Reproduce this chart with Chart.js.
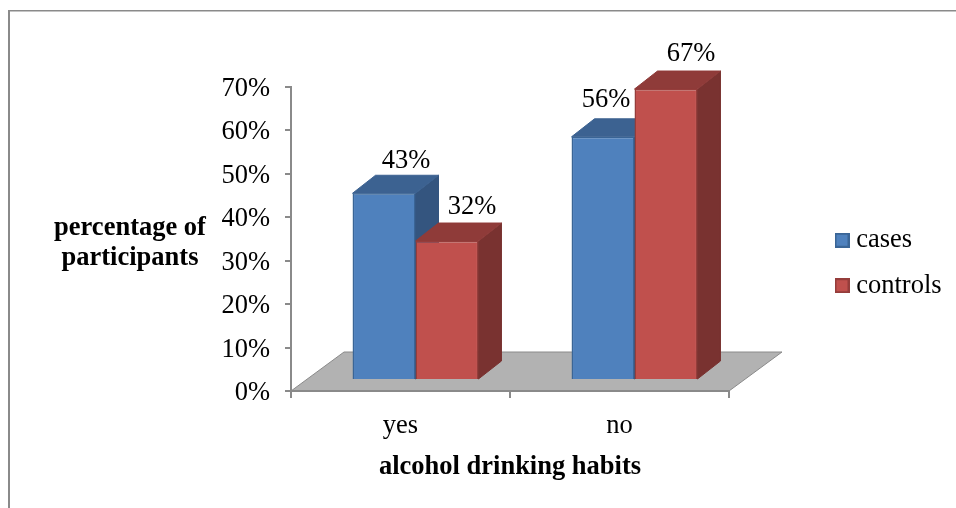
<!DOCTYPE html>
<html>
<head>
<meta charset="utf-8">
<style>
    html, body { margin: 0; padding: 0; background: #fff; }
    canvas { display: block; }
</style>
</head>
<body>
<canvas id="habitsChart" width="956" height="508"></canvas>
<script src="https://cdn.jsdelivr.net/npm/chart.js@4"></script>
<script>
const categories = ['yes', 'no'];
const cases = [43, 56];
const controls = [32, 67];
const yMax = 70;
const yStep = 10;

const xTitle = 'alcohol drinking habits';
const yTitleLines = ['percentage of', 'participants'];

const serif = '"Liberation Serif", "Times New Roman", serif';
const textSize = 26.5;
const axisColor = '#8a8a8a';

// how far the bars sit into the floor, and how deep they are
const barShift = { x: 15, y: -11 };
const barDepth = { x: 23, y: -18 };
const floorDepth = { x: 53, y: -39 };

const faces = [
    { front: '#4f81bd', edge: '#3a6596', top: '#3c6291', side: '#34557f' },
    { front: '#c0504d', edge: '#953d3b', top: '#8f3b39', side: '#793230' }
];

// label position relative to the top middle of the front face
const labelOffsets = [
    [[22, -32], [3, -37]],
    [[25, -34], [25, -35]]
];

function swatch(face) {
    const c = document.createElement('canvas');
    c.width = 15;
    c.height = 15;
    const g = c.getContext('2d');
    g.fillStyle = face.front;
    g.fillRect(0, 0, 15, 15);
    g.strokeStyle = face.edge;
    g.lineWidth = 2;
    g.strokeRect(1, 1, 13, 13);
    return c;
}

function poly(ctx, pts, fill, stroke) {
    ctx.beginPath();
    pts.forEach((p, i) => (i ? ctx.lineTo(p[0], p[1]) : ctx.moveTo(p[0], p[1])));
    ctx.closePath();
    ctx.fillStyle = fill;
    ctx.fill();
    if (stroke) {
        ctx.strokeStyle = stroke;
        ctx.lineWidth = 1;
        ctx.stroke();
    }
}

const frame3d = {
    id: 'frame3d',
    beforeLayout(chart) {
        const lg = chart.legend;
        if (!lg.wideFit) {
            const fit = lg.fit;
            lg.fit = function () {
                fit.call(this);
                this.width = 227;
            };
            lg.wideFit = true;
        }
    },
    afterLayout(chart) {
        // legend goes at a fixed spot in the strip right of the plot
        const lg = chart.legend;
        lg.left = 841 - lg.options.labels.padding;
        lg.right = 956;
        lg.top = 227 - lg.options.labels.padding;
    },
    beforeDraw(chart) {
        const { ctx, scales: { x, y } } = chart;
        ctx.save();
        // page frame
        ctx.fillStyle = axisColor;
        ctx.fillRect(8, 10, 948, 1.5);
        ctx.fillRect(8, 10, 2, 498);
        // floor
        const y0 = y.getPixelForValue(0);
        poly(ctx, [
            [x.left, y0],
            [x.right, y0],
            [x.right + floorDepth.x, y0 + floorDepth.y],
            [x.left + floorDepth.x, y0 + floorDepth.y]
        ], '#b2b2b2', axisColor);
        ctx.restore();
    },
    beforeDatasetsDraw(chart) {
        // depth faces first, left series before right, fronts go over them
        const ctx = chart.ctx;
        ctx.save();
        ctx.translate(barShift.x, barShift.y);
        chart.data.datasets.forEach((ds, i) => {
            const face = faces[i];
            chart.getDatasetMeta(i).data.forEach((bar) => {
                const l = bar.x - bar.width / 2;
                const r = bar.x + bar.width / 2;
                const dx = barDepth.x;
                const dy = barDepth.y;
                poly(ctx, [[r, bar.y], [r + dx, bar.y + dy], [r + dx, bar.base + dy], [r, bar.base]], face.side, face.side);
                poly(ctx, [[l, bar.y], [l + dx, bar.y + dy], [r + dx, bar.y + dy], [r, bar.y]], face.top, face.top);
            });
        });
        ctx.restore();
    },
    beforeDatasetDraw(chart) {
        chart.ctx.save();
        chart.ctx.translate(barShift.x, barShift.y);
    },
    afterDatasetDraw(chart) {
        chart.ctx.restore();
    },
    afterDatasetsDraw(chart) {
        const ctx = chart.ctx;
        ctx.save();
        ctx.fillStyle = '#000';
        ctx.font = textSize + 'px ' + serif;
        ctx.textAlign = 'center';
        ctx.textBaseline = 'middle';
        chart.data.datasets.forEach((ds, i) => {
            chart.getDatasetMeta(i).data.forEach((bar, j) => {
                const off = labelOffsets[i][j];
                ctx.fillText(ds.data[j] + '%', bar.x + barShift.x + off[0], bar.y + barShift.y + off[1]);
            });
        });
        // the value axis title is horizontal and wrapped, which scale titles can't do
        ctx.font = 'bold ' + textSize + 'px ' + serif;
        ctx.fillText(yTitleLines[0], 130, 228);
        ctx.fillText(yTitleLines[1], 130, 258);
        ctx.restore();
    }
};

new Chart(document.getElementById('habitsChart'), {
    type: 'bar',
    data: {
        labels: categories,
        datasets: [
            { label: 'cases', data: cases, backgroundColor: faces[0].front, borderColor: faces[0].edge, borderWidth: 1.5, clip: false },
            { label: 'controls', data: controls, backgroundColor: faces[1].front, borderColor: faces[1].edge, borderWidth: 1.5, clip: false }
        ]
    },
    options: {
        responsive: false,
        animation: false,
        layout: { padding: { top: 87 } },
        datasets: { bar: { categoryPercentage: 0.575, barPercentage: 1 } },
        plugins: {
            tooltip: { enabled: false },
            legend: {
                position: 'right',
                align: 'start',
                onClick: null,
                labels: {
                    usePointStyle: true,
                    pointStyleWidth: 2,
                    padding: 19,
                    color: '#000',
                    font: { family: serif, size: textSize },
                    generateLabels(chart) {
                        return chart.data.datasets.map((ds, i) => ({
                            text: ds.label,
                            datasetIndex: i,
                            fontColor: '#000',
                            pointStyle: swatch(faces[i])
                        }));
                    }
                }
            }
        },
        scales: {
            x: {
                afterFit(scale) { scale.height = 117; },
                border: { color: axisColor, width: 2 },
                grid: { drawOnChartArea: false, color: axisColor, lineWidth: 2, tickLength: 7 },
                ticks: { color: '#000', padding: 12, maxRotation: 0, font: { family: serif, size: textSize } },
                title: {
                    display: true,
                    text: xTitle,
                    color: '#000',
                    padding: { top: 0, bottom: 25 },
                    font: { family: serif, size: textSize, weight: 'bold' }
                }
            },
            y: {
                min: 0,
                max: yMax,
                afterFit(scale) { scale.width = 291; },
                border: { color: axisColor, width: 2 },
                grid: { drawOnChartArea: false, color: axisColor, lineWidth: 2, tickLength: 6 },
                ticks: {
                    stepSize: yStep,
                    color: '#000',
                    padding: 15,
                    labelOffset: 2,
                    font: { family: serif, size: textSize },
                    callback: (v) => v + '%'
                }
            }
        }
    },
    plugins: [frame3d]
});
</script>
</body>
</html>
